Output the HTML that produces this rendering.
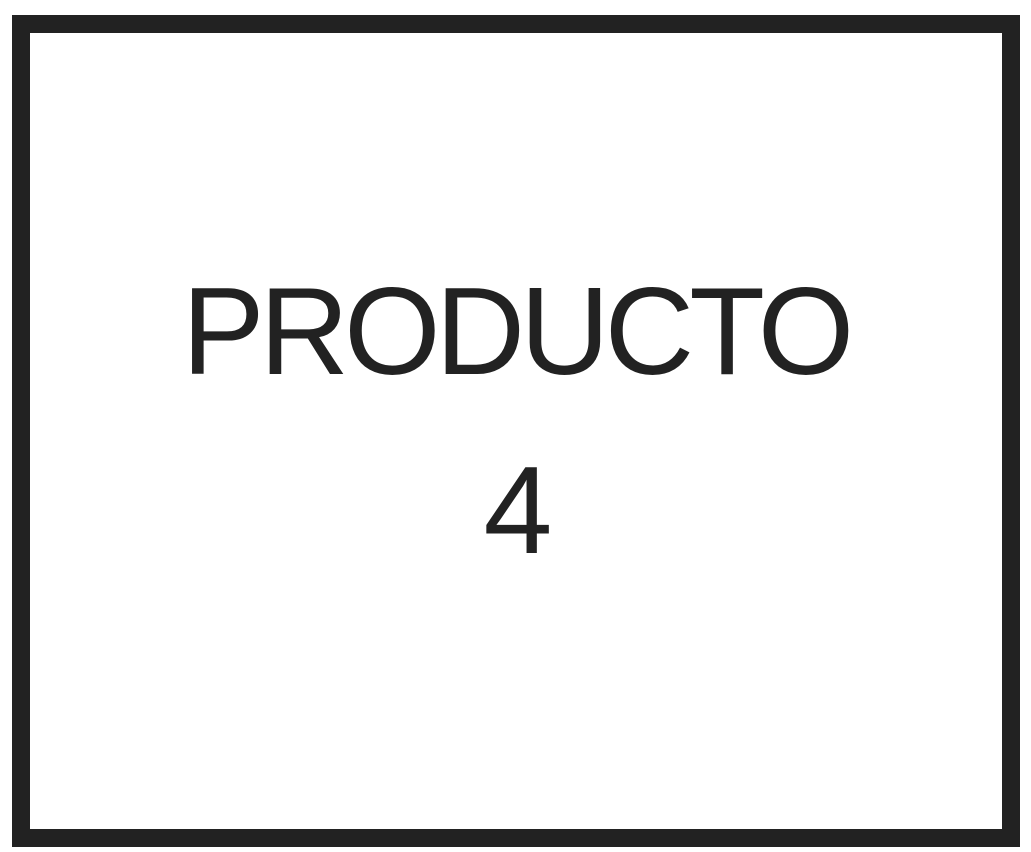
<!DOCTYPE html>
<html><head><style>
html,body{margin:0;padding:0;background:#fff;width:1031px;height:852px;overflow:hidden}
.box{position:absolute;left:12px;top:15px;width:972px;height:796px;border:18px solid #222;}
.t{position:absolute;left:0;width:1031px;text-align:center;font-family:"Liberation Sans",sans-serif;font-size:124px;color:#222;letter-spacing:-5px;line-height:1}
</style></head><body>
<div class="box"></div>
<div class="t" style="top:270px">PRODUCTO</div>
<div class="t" style="top:449px">4</div>
</body></html>
